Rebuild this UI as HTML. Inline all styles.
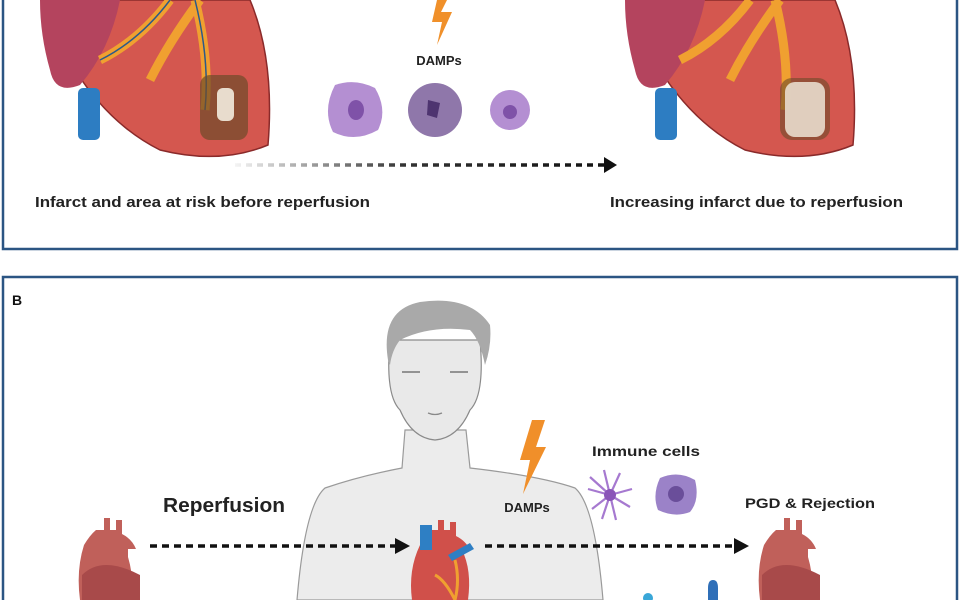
<!DOCTYPE html>
<html><head><meta charset="utf-8"><style>
html,body{margin:0;padding:0;background:#fff;}
svg{display:block;}
text{font-family:"Liberation Sans",sans-serif;}
</style></head><body>
<svg width="960" height="600" viewBox="0 0 960 600" xmlns="http://www.w3.org/2000/svg">
<defs>
<linearGradient id="ag" gradientUnits="userSpaceOnUse" x1="235" y1="0" x2="610" y2="0"><stop offset="0" stop-color="#f4f4f4"/><stop offset="0.45" stop-color="#333"/><stop offset="1" stop-color="#111"/></linearGradient>
</defs>
<rect width="960" height="600" fill="#fff"/>
<!-- Panel A -->
<rect x="3" y="-5" width="954" height="254" fill="none" stroke="#2b5583" stroke-width="2.5"/>
<g>
<path d="M50 0 L250 0 Q275 60 268 145 Q220 165 160 150 Q110 125 75 70 Q45 35 50 0Z" fill="#d4574f" stroke="#8a2a2a" stroke-width="1.5"/>
<path d="M40 0 L120 0 Q110 50 80 85 Q55 95 50 70 Q40 35 40 0Z" fill="#b4445e"/>
<rect x="78" y="88" width="22" height="52" rx="5" fill="#2d7dc2"/>
<path d="M100 60 Q140 40 170 0 M150 80 Q170 40 200 0 M205 110 Q210 60 195 0" stroke="#f0a030" stroke-width="9" fill="none"/>
<path d="M100 60 Q140 40 170 0 M205 110 Q210 60 195 0" stroke="#2b5a8a" stroke-width="1.5" fill="none"/>
<rect x="200" y="75" width="48" height="65" rx="10" fill="#6d4a2a" opacity="0.7"/>
<rect x="217" y="88" width="17" height="33" rx="6" fill="#e8dccd"/>
</g>
<g>
<path d="M635 0 L835 0 Q860 60 853 145 Q805 165 745 150 Q695 125 660 70 Q630 35 635 0Z" fill="#d4574f" stroke="#8a2a2a" stroke-width="1.5"/>
<path d="M625 0 L705 0 Q695 50 665 85 Q640 95 635 70 Q625 35 625 0Z" fill="#b4445e"/>
<rect x="655" y="88" width="22" height="52" rx="5" fill="#2d7dc2"/>
<path d="M680 60 Q720 40 750 0 M730 80 Q750 40 780 0 M785 110 Q790 60 775 0" stroke="#f0a030" stroke-width="9" fill="none"/>
<rect x="780" y="78" width="50" height="62" rx="12" fill="#6d4a2a" opacity="0.6"/>
<rect x="785" y="82" width="40" height="55" rx="10" fill="#e8dccd" opacity="0.9"/>
</g>
<polygon points="437,0 447,0 441,12 452,12 437,45 442,22 432,22" fill="#f0902a"/>
<text x="439" y="65" font-size="13" font-weight="bold" text-anchor="middle" fill="#222">DAMPs</text>
<path d="M335 85 Q355 78 375 88 Q388 110 378 130 Q355 143 333 132 Q322 110 335 85Z" fill="#b48fd2"/>
<ellipse cx="356" cy="110" rx="8" ry="10" fill="#7f52a8"/>
<circle cx="435" cy="110" r="27" fill="#8f77aa"/>
<path d="M428 100 l12 3 l-3 15 l-10 -3Z" fill="#4e3470"/>
<circle cx="510" cy="110" r="20" fill="#b48fd2"/>
<circle cx="510" cy="112" r="7" fill="#7f52a8"/>
<line x1="235" y1="165" x2="605" y2="165" stroke="url(#ag)" stroke-width="3.5" stroke-dasharray="6,5"/>
<polygon points="604,157 617,165 604,173" fill="#111"/>
<text x="35" y="207" font-size="15" font-weight="bold" fill="#222" textLength="335" lengthAdjust="spacingAndGlyphs">Infarct and area at risk before reperfusion</text>
<text x="610" y="207" font-size="15" font-weight="bold" fill="#222" textLength="293" lengthAdjust="spacingAndGlyphs">Increasing infarct due to reperfusion</text>
<!-- Panel B -->
<rect x="3" y="277" width="954" height="330" fill="none" stroke="#2b5583" stroke-width="2.5"/>
<text x="12" y="305" font-size="14" font-weight="bold" fill="#111">B</text>
<path d="M405 430 L402 468 Q360 476 325 488 Q305 505 297 600 L603 600 Q595 505 575 488 Q540 476 470 468 L466 430Z" fill="#ececec" stroke="#9a9a9a" stroke-width="1.2"/>
<path d="M390 340 Q385 395 400 410 Q412 438 435 440 Q458 438 470 410 Q485 395 480 340Z" fill="#e9e9e9" stroke="#8a8a8a" stroke-width="1.2"/>
<path d="M388 360 Q380 310 420 302 Q470 295 490 325 Q492 345 485 365 Q480 340 470 330 Q430 325 400 340 Q392 350 390 365Z" fill="#a9a9a9"/>
<path d="M402 372 h18 M450 372 h18" stroke="#777" stroke-width="1.5"/>
<path d="M428 413 q7 3 14 0" stroke="#888" stroke-width="1.3" fill="none"/>
<polygon points="532,420 545,420 536,447 546,447 523,494 530,460 520,460" fill="#f08f2a"/>
<text x="527" y="512" font-size="13" font-weight="bold" text-anchor="middle" fill="#222">DAMPs</text>
<text x="592" y="456" font-size="14" font-weight="bold" fill="#222" textLength="108" lengthAdjust="spacingAndGlyphs">Immune cells</text>
<g stroke="#a679d0" stroke-width="2.2" fill="none">
<path d="M610 495 l-22 -6 M610 495 l-18 14 M610 495 l-6 -25 M610 495 l10 -22 M610 495 l22 -6 M610 495 l20 12 M610 495 l6 25 M610 495 l-8 24 M610 495 l-20 -18"/>
</g>
<circle cx="610" cy="495" r="6" fill="#8a55b8"/>
<path d="M660 478 Q678 470 695 480 Q700 500 690 512 Q675 518 658 510 Q652 495 660 478Z" fill="#9b82c8"/>
<circle cx="676" cy="494" r="8" fill="#6a4e9a"/>
<text x="163" y="512" font-size="20" font-weight="bold" fill="#222" textLength="122" lengthAdjust="spacingAndGlyphs">Reperfusion</text>
<text x="745" y="508" font-size="14" font-weight="bold" fill="#222" textLength="130" lengthAdjust="spacingAndGlyphs">PGD &amp; Rejection</text>
<line x1="150" y1="546" x2="396" y2="546" stroke="#111" stroke-width="3.5" stroke-dasharray="7,5"/>
<polygon points="395,538 410,546 395,554" fill="#111"/>
<line x1="485" y1="546" x2="735" y2="546" stroke="#111" stroke-width="3.5" stroke-dasharray="7,5"/>
<polygon points="734,538 749,546 734,554" fill="#111"/>
<g>
<path d="M96 530 h8 v-12 h6 v12 h6 v-10 h6 v14 q10 5 14 15 h-8 v8 q6 20 4 43 h-52 q-4 -30 4 -55 q6 -10 12 -15Z" fill="#c0605a"/>
<path d="M82 575 q20 -20 58 0 v25 h-58Z" fill="#a84a4a"/>
</g>
<g>
<path d="M430 530 h8 v-10 h6 v10 h6 v-8 h6 v14 q10 5 14 14 h-8 q10 20 6 50 h-56 q-4 -30 8 -55 q6 -10 10 -15Z" fill="#d0504a"/>
<path d="M420 525 h12 v25 h-12Z M448 555 l22 -12 l4 6 l-22 12Z" fill="#2e7fc4"/>
<path d="M435 575 q10 5 20 25 M455 560 q5 20 0 40" stroke="#f0a030" stroke-width="3" fill="none"/>
</g>
<g>
<path d="M776 530 h8 v-12 h6 v12 h6 v-10 h6 v14 q10 5 14 15 h-8 v8 q6 20 4 43 h-52 q-4 -30 4 -55 q6 -10 12 -15Z" fill="#c0605a"/>
<path d="M762 575 q20 -20 58 0 v25 h-58Z" fill="#a84a4a"/>
</g>
<path d="M708 600 v-12 q0 -8 5 -8 q5 0 5 8 v12Z" fill="#2f6fb8"/>
<circle cx="648" cy="598" r="5" fill="#3aa7d8"/>
</svg>
</body></html>
